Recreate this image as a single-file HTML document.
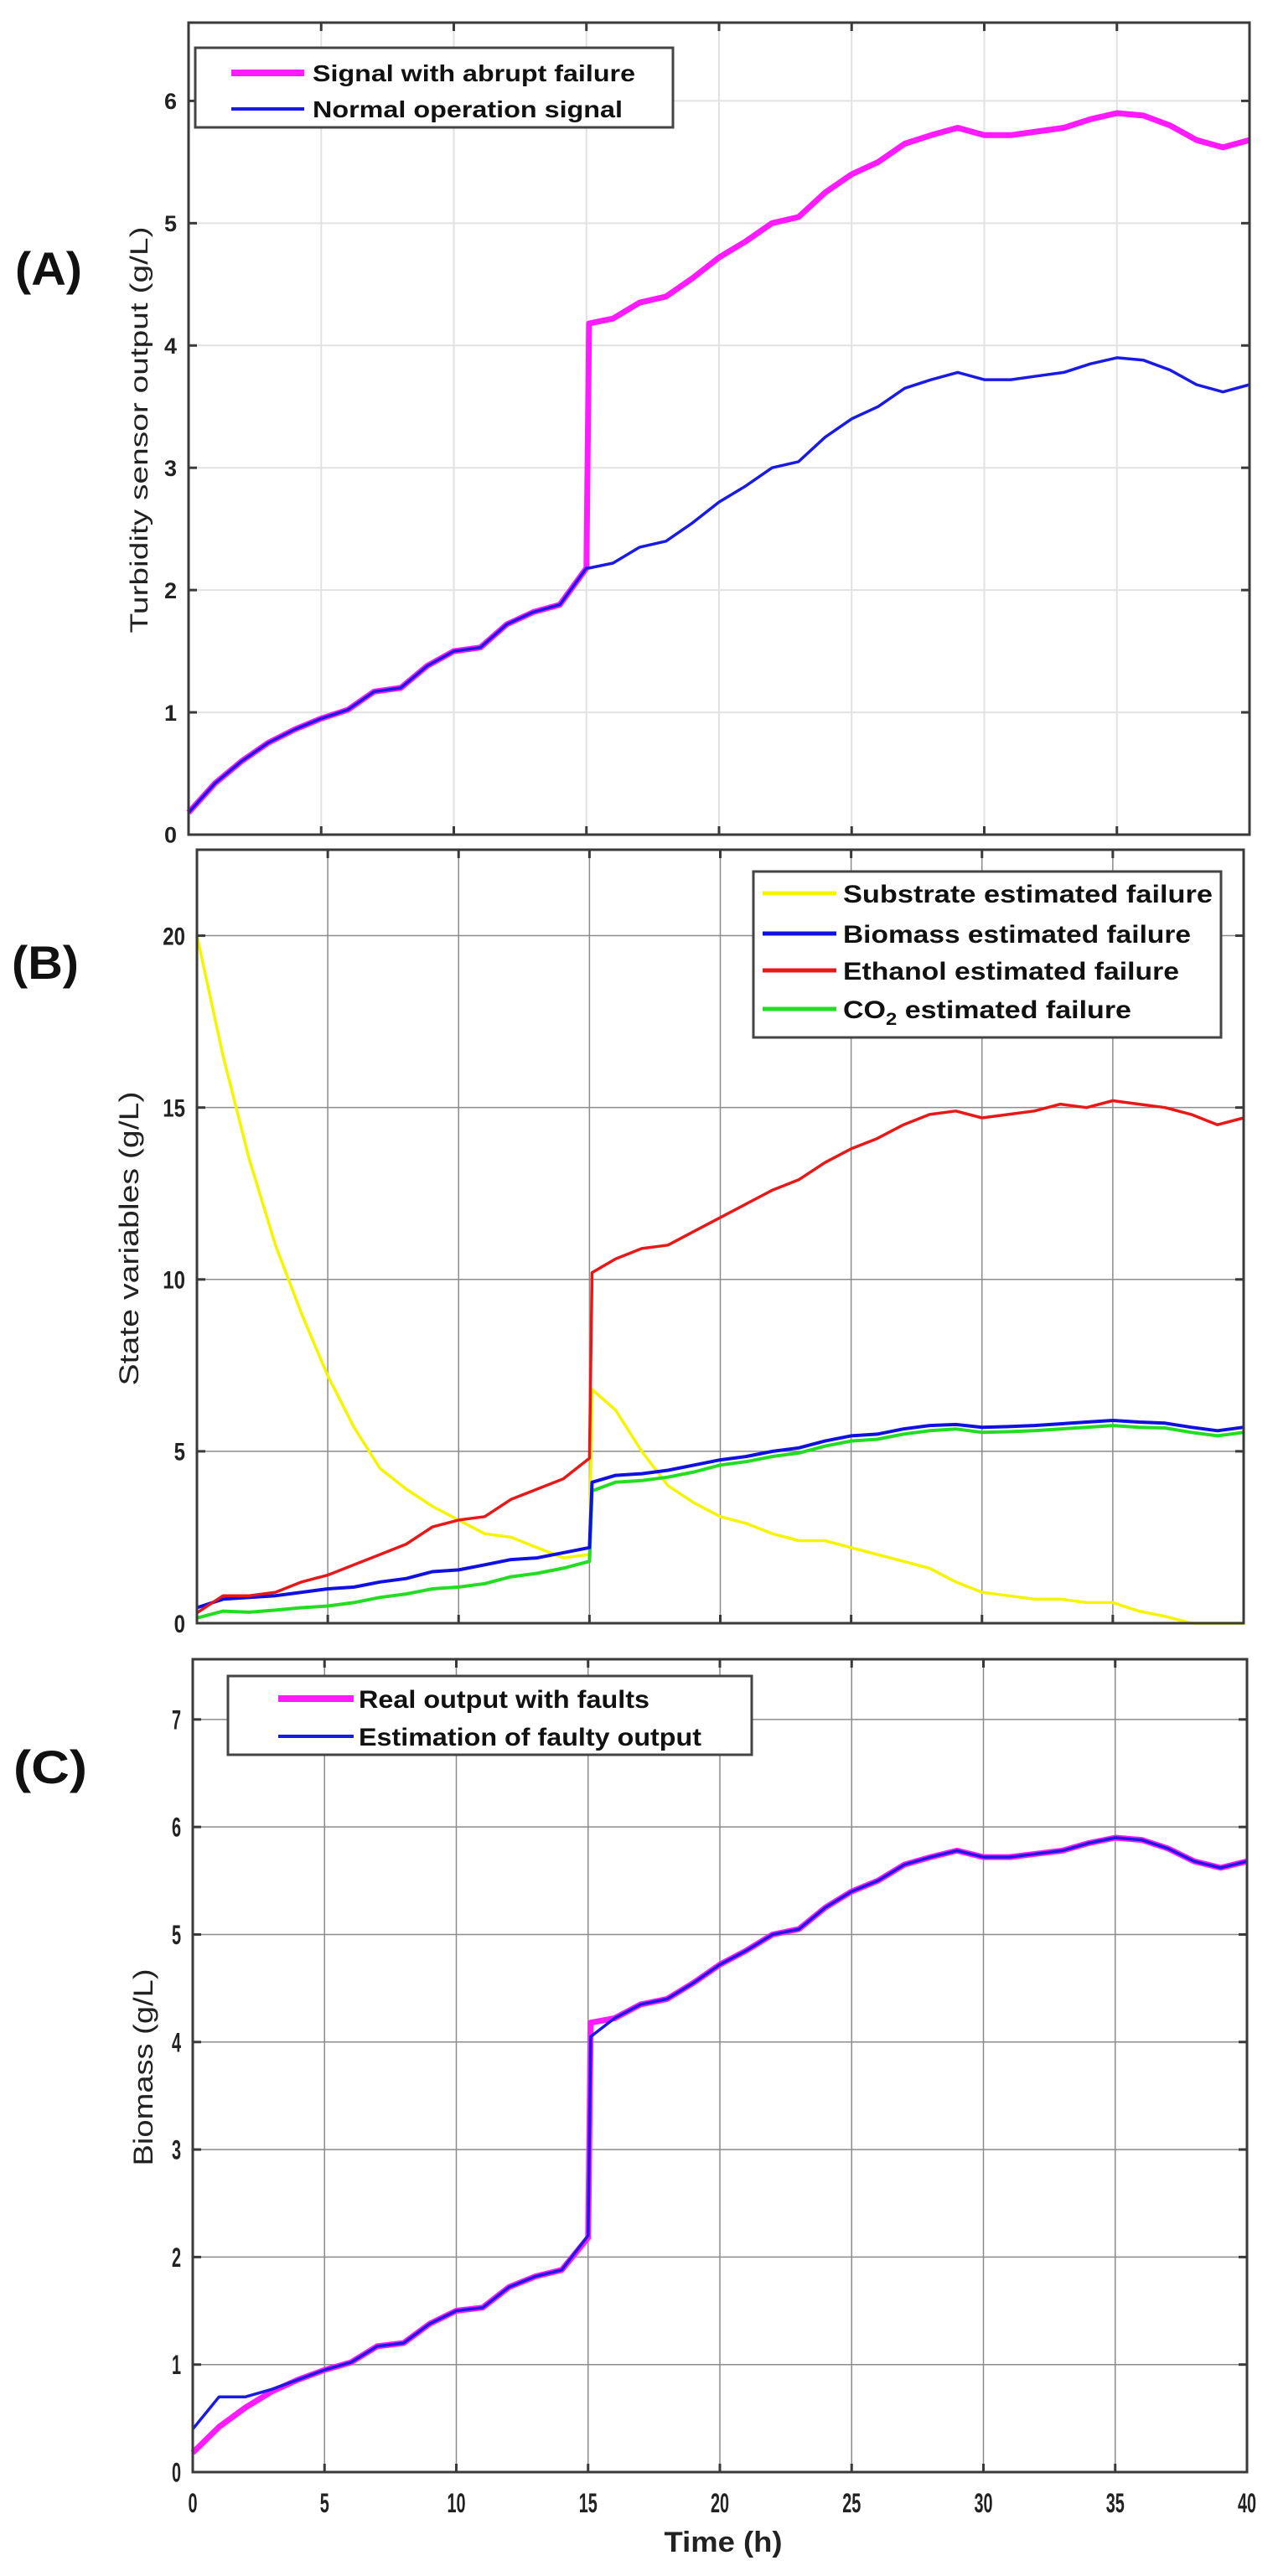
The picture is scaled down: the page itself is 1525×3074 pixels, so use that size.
<!DOCTYPE html>
<html><head><meta charset="utf-8"><style>
html,body{margin:0;padding:0;background:#fff;}
svg{display:block;}
text{font-family:"Liberation Sans",Arial,sans-serif;}
</style></head><body>
<svg id="fig" width="1525" height="3074" viewBox="0 0 1525 3074" xmlns="http://www.w3.org/2000/svg"></svg>
<script>
// ---- shared x axis ----
const xTicks = [0,5,10,15,20,25,30,35,40];
const tHours = [0,1,2,3,4,5,6,7,8,9,10,11,12,13,14,15,15.1,16,17,18,19,20,21,22,23,24,25,26,27,28,29,30,31,32,33,34,35,36,37,38,39,40];
// ---- panel A ----
const yTicksA = [0,1,2,3,4,5,6];
const faultySignalA = [0.18,0.42,0.6,0.75,0.86,0.95,1.02,1.17,1.2,1.38,1.5,1.53,1.72,1.82,1.88,2.18,4.18,4.22,4.35,4.4,4.55,4.72,4.85,5.0,5.05,5.25,5.4,5.5,5.65,5.72,5.78,5.72,5.72,5.75,5.78,5.85,5.9,5.88,5.8,5.68,5.62,5.68];
const normalSignalA = [0.18,0.42,0.6,0.75,0.86,0.95,1.02,1.17,1.2,1.38,1.5,1.53,1.72,1.82,1.88,2.18,2.18,2.22,2.35,2.4,2.55,2.72,2.85,3.0,3.05,3.25,3.4,3.5,3.65,3.72,3.78,3.72,3.72,3.75,3.78,3.85,3.9,3.88,3.8,3.68,3.62,3.68];
// ---- panel B ----
const yTicksB = [0,5,10,15,20];
const substrateB = [20,16.5,13.5,11,9,7.2,5.7,4.5,3.9,3.4,3.0,2.6,2.5,2.2,1.9,2.0,6.8,6.2,5.0,4.0,3.5,3.1,2.9,2.6,2.4,2.4,2.2,2.0,1.8,1.6,1.2,0.9,0.8,0.7,0.7,0.6,0.6,0.35,0.2,0,0,0];
const biomassB = [0.45,0.7,0.75,0.8,0.9,1.0,1.05,1.2,1.3,1.5,1.55,1.7,1.85,1.9,2.05,2.2,4.1,4.3,4.35,4.45,4.6,4.75,4.85,5.0,5.1,5.3,5.45,5.5,5.65,5.75,5.78,5.7,5.72,5.75,5.8,5.85,5.9,5.85,5.82,5.7,5.6,5.7];
const ethanolB = [0.3,0.8,0.8,0.9,1.2,1.4,1.7,2.0,2.3,2.8,3.0,3.1,3.6,3.9,4.2,4.8,10.2,10.6,10.9,11.0,11.4,11.8,12.2,12.6,12.9,13.4,13.8,14.1,14.5,14.8,14.9,14.7,14.8,14.9,15.1,15.0,15.2,15.1,15.0,14.8,14.5,14.7];
const co2B = [0.15,0.35,0.32,0.38,0.45,0.5,0.6,0.75,0.85,1.0,1.05,1.15,1.35,1.45,1.6,1.8,3.85,4.1,4.15,4.25,4.4,4.6,4.7,4.85,4.95,5.15,5.3,5.35,5.5,5.6,5.65,5.55,5.57,5.6,5.65,5.7,5.75,5.7,5.68,5.55,5.45,5.55];
// ---- panel C ----
const yTicksC = [0,1,2,3,4,5,6,7];
const realOutputC = [0.18,0.42,0.6,0.75,0.86,0.95,1.02,1.17,1.2,1.38,1.5,1.53,1.72,1.82,1.88,2.18,4.18,4.22,4.35,4.4,4.55,4.72,4.85,5.0,5.05,5.25,5.4,5.5,5.65,5.72,5.78,5.72,5.72,5.75,5.78,5.85,5.9,5.88,5.8,5.68,5.62,5.68];
const estimatedOutputC = [0.4,0.7,0.7,0.77,0.86,0.95,1.02,1.17,1.2,1.38,1.5,1.53,1.72,1.82,1.88,2.2,4.05,4.22,4.35,4.4,4.55,4.72,4.85,5.0,5.05,5.25,5.4,5.5,5.65,5.72,5.78,5.72,5.72,5.75,5.78,5.85,5.9,5.88,5.8,5.68,5.62,5.68];

const NS='http://www.w3.org/2000/svg';
const svg=document.getElementById('fig');
function mk(tag,attrs,parent,txt){const e=document.createElementNS(NS,tag);for(const k in attrs)e.setAttribute(k,attrs[k]);if(txt!==undefined)e.textContent=txt;(parent||svg).appendChild(e);return e;}

function panel(cfg){
  const g=mk('g',{});
  
  
  const X=v=>cfg.x0+(v-0)/(40-0)*(cfg.x1-cfg.x0);
  const Y=v=>cfg.y0-(v/cfg.ymax)*(cfg.y0-cfg.yTop);
  cfg.X=X;cfg.Y=Y;
  xTicks.forEach(t=>{const l=mk('line',{x1:X(t),x2:X(t),y1:cfg.yTop,y2:cfg.y0,stroke:cfg.grid,'stroke-width':cfg.gw},g);
    
    });
  cfg.yTicks.forEach(t=>{const l=mk('line',{x1:cfg.x0,x2:cfg.x1,y1:Y(t),y2:Y(t),stroke:cfg.grid,'stroke-width':cfg.gw},g);
    
    });
  cfg.series.forEach(s=>{
    const pts=s.data.map((v,i)=>X(tHours[i]).toFixed(1)+','+Y(v).toFixed(1)).join(' ');
    const p=mk('polyline',{points:pts,fill:'none',stroke:s.color,'stroke-width':s.w,'stroke-linejoin':'round'},g);
    
    
  });
  const b=mk('rect',{x:cfg.x0,y:cfg.yTop,width:cfg.x1-cfg.x0,height:cfg.y0-cfg.yTop,fill:'none',stroke:'#3a3a3a','stroke-width':3},g);
  
  
  xTicks.forEach(t=>{mk('line',{x1:X(t),x2:X(t),y1:cfg.y0,y2:cfg.y0-10,stroke:'#3a3a3a','stroke-width':3},g);
    mk('line',{x1:X(t),x2:X(t),y1:cfg.yTop,y2:cfg.yTop+10,stroke:'#3a3a3a','stroke-width':3},g);});
  cfg.yTicks.forEach(t=>{mk('line',{x1:cfg.x0,x2:cfg.x0+10,y1:Y(t),y2:Y(t),stroke:'#3a3a3a','stroke-width':3},g);
    mk('line',{x1:cfg.x1,x2:cfg.x1-10,y1:Y(t),y2:Y(t),stroke:'#3a3a3a','stroke-width':3},g);
    const tx=cfg.x0-14;
    const tl=mk('text',{x:tx,y:Y(t)+cfg.tfs*0.36,'text-anchor':'end','font-size':cfg.tfs,'font-weight':'bold',fill:'#222',transform:`translate(${tx},0) scale(${cfg.tsx},1) translate(${-tx},0)`},g,String(t));
    
    });
  const yl=mk('text',{x:0,y:0,'text-anchor':'middle','font-size':cfg.ylfs,fill:'#222',transform:`translate(${cfg.ylx},${cfg.yly}) rotate(-90)`,textLength:cfg.ylLen,lengthAdjust:'spacingAndGlyphs'},g,cfg.ylabel);
  
  
  const pl=mk('text',{x:cfg.plx,y:cfg.ply,'font-size':56,'font-weight':'bold',fill:'#111',textLength:cfg.plw,lengthAdjust:'spacingAndGlyphs'},g,cfg.plabel);
  
  
  const L=cfg.legend;
  const lg=mk('g',{},g);
  
  
  mk('rect',{x:L.x,y:L.y,width:L.w,height:L.h,fill:'#fff',stroke:'#444','stroke-width':3},lg);
  L.items.forEach(it=>{
    const e=mk('g',{},lg);
    
    
    mk('line',{x1:L.lx0,x2:L.lx1,y1:it.y,y2:it.y,stroke:it.color,'stroke-width':it.w},e);
    const t=mk('text',{x:L.tx,y:it.y+L.fs*0.36,'font-size':L.fs,'font-weight':L.fw,fill:'#111',textLength:it.len,lengthAdjust:'spacingAndGlyphs'},e);
    if(it.sub){t.appendChild(document.createTextNode('CO'));mk('tspan',{dy:8,'font-size':L.fs*0.7},t,'2');mk('tspan',{dy:-8},t,' estimated failure');}
    else t.textContent=it.label;
  });
  return cfg;
}

panel({name:'panel-a-chart',x0:225,x1:1491,yTop:27,y0:996,ymax:6.64,yTicks:yTicksA,grid:'#e2e2e2',gw:2,tfs:27,tsx:1,
  ylabel:'Turbidity sensor output (g/L)',ylx:176,yly:513,ylfs:30,ylLen:485,plabel:'(A)',plx:18,ply:340,plw:80,
  series:[{name:'signal-with-abrupt-failure-line',data:faultySignalA,color:'#ff1aff',w:7},{name:'normal-operation-signal-line',data:normalSignalA,color:'#1a1ae6',w:3.5}],
  legend:{x:233,y:57,w:570,h:95,lx0:276,lx1:363,tx:373,fs:28,fw:'bold',items:[
    {label:'Signal with abrupt failure',color:'#ff1aff',w:8,y:87,len:385},
    {label:'Normal operation signal',color:'#1a1ae6',w:4,y:130,len:370}]}});

panel({name:'panel-b-chart',x0:235,x1:1484,yTop:1014,y0:1937,ymax:22.5,yTicks:yTicksB,grid:'#8c8c8c',gw:1.5,tfs:30,tsx:0.8,
  ylabel:'State variables (g/L)',ylx:165,yly:1478,ylfs:32,ylLen:351,plabel:'(B)',plx:14,ply:1168,plw:80,
  series:[{name:'substrate-line',data:substrateB,color:'#f5f500',w:3.5},{name:'co2-line',data:co2B,color:'#22dd22',w:4},{name:'biomass-line',data:biomassB,color:'#1010e0',w:4},{name:'ethanol-line',data:ethanolB,color:'#e81818',w:3.5}],
  legend:{x:899,y:1040,w:558,h:198,lx0:910,lx1:998,tx:1006,fs:30,fw:'bold',items:[
    {label:' Substrate estimated failure',color:'#f5f500',w:5,y:1066,len:441},
    {label:'Biomass estimated failure',color:'#1010e0',w:5,y:1114,len:415},
    {label:'Ethanol estimated failure',color:'#e81818',w:5,y:1158,len:401},
    {label:'CO2 estimated failure',color:'#22dd22',w:5,y:1204,len:344,sub:true}]}});

const C=panel({name:'panel-c-chart',x0:230,x1:1488,yTop:1980,y0:2950,ymax:7.56,yTicks:yTicksC,grid:'#8c8c8c',gw:1.5,tfs:32,tsx:0.62,
  ylabel:'Biomass (g/L)',ylx:182,yly:2467,ylfs:32,ylLen:235,plabel:'(C)',plx:16,ply:2128,plw:88,
  series:[{name:'real-output-with-faults-line',data:realOutputC,color:'#ff1aff',w:7},{name:'estimation-of-faulty-output-line',data:estimatedOutputC,color:'#1a1ae6',w:3.5}],
  legend:{x:272,y:2000,w:625,h:94,lx0:332,lx1:422,tx:428,fs:30,fw:'bold',items:[
    {label:'Real output with faults',color:'#ff1aff',w:8,y:2027,len:347},
    {label:'Estimation of faulty output',color:'#1a1ae6',w:4,y:2072,len:409}]}});

xTicks.forEach(t=>{
  const tl=mk('text',{x:C.X(t),y:2998,'text-anchor':'middle','font-size':32,'font-weight':'bold',fill:'#222',transform:`translate(${C.X(t)},0) scale(0.62,1) translate(${-C.X(t)},0)`},svg,String(t));
  
  
});
const xt=mk('text',{x:863,y:3045,'text-anchor':'middle','font-size':34,'font-weight':'bold',fill:'#222',textLength:141,lengthAdjust:'spacingAndGlyphs'},svg,'Time (h)');


</script>
</body></html>
